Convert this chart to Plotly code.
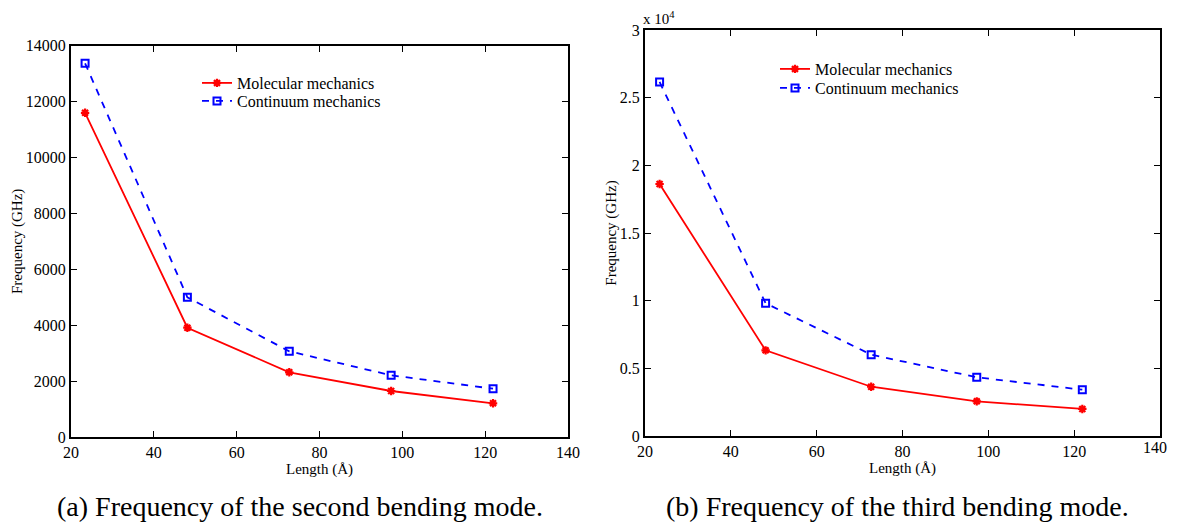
import plotly.graph_objects as go

# Data
length = [23.4, 48.1, 72.7, 97.3, 121.9]
mm_second = [11600, 3910, 2315, 1646, 1206]
cm_second = [13370, 4998, 3066, 2207, 1728]
mm_third = [18620, 6330, 3640, 2560, 2000]
cm_third = [26160, 9810, 6010, 4340, 3420]

x_ticks = [20, 40, 60, 80, 100, 120, 140]
x_text_b = ["20", "40", "60", "80", "100", "120", ""]
x_last = [140]
y_ticks_a = [0, 2000, 4000, 6000, 8000, 10000, 12000, 14000]
y_text_a = ["0", "2000", "4000", "6000", "8000", "10000", "12000", "14000"]
y_ticks_b = [0, 5000, 10000, 15000, 20000, 25000, 30000]
y_text_b = ["0", "0.5", "1", "1.5", "2", "2.5", "3"]

FONT = "Liberation Serif, Times New Roman, serif"
RED = "#ff0000"
BLUE = "#0000ff"

fig = go.Figure()

red_line = dict(color=RED, width=1.8)
red_marker = dict(symbol="asterisk-open", size=7, line=dict(color=RED, width=2.2))
blue_line = dict(color=BLUE, width=1.8, dash="7px,7px")
blue_marker = dict(symbol="square-open", size=7, line=dict(color=BLUE, width=2))

fig.add_trace(go.Scatter(x=length, y=mm_second, name="Molecular mechanics", mode="lines+markers",
                         line=red_line, marker=red_marker, xaxis="x", yaxis="y", legend="legend"))
fig.add_trace(go.Scatter(x=length, y=cm_second, name="Continuum mechanics", mode="lines+markers",
                         line=blue_line, marker=blue_marker, xaxis="x", yaxis="y", legend="legend3"))
fig.add_trace(go.Scatter(x=length, y=mm_third, name="Molecular mechanics", mode="lines+markers",
                         line=red_line, marker=red_marker, xaxis="x2", yaxis="y2", legend="legend2"))
fig.add_trace(go.Scatter(x=length, y=cm_third, name="Continuum mechanics", mode="lines+markers",
                         line=blue_line, marker=blue_marker, xaxis="x2", yaxis="y2", legend="legend4"))
# helper (empty) trace so the overlay axis carrying the last tick label is drawn
fig.add_trace(go.Scatter(x=[], y=[], xaxis="x3", yaxis="y2", showlegend=False, hoverinfo="skip"))

# The page adds an 8px body margin; the figure is sized/positioned accordingly.
OFF = 8
W = 1161.0
H = 515.0
def fx(px):
    return (px - OFF) / W
def fy(py):
    return (H - (py - OFF)) / H

axis_common = dict(showline=True, linecolor="black", linewidth=2, mirror="ticks",
                   ticks="inside", ticklen=6, tickwidth=1.2, tickcolor="black",
                   showgrid=False, zeroline=False, automargin=False,
                   ticklabeloverflow="allow",
                   tickfont=dict(family=FONT, size=16, color="black"))
title_font = dict(family=FONT, size=15, color="black")

def leg(xp, yp):
    return dict(x=fx(xp), y=fy(yp), xanchor="left", yanchor="middle", bgcolor="rgba(0,0,0,0)",
                font=dict(family=FONT, size=16, color="black"), itemwidth=30, tracegroupgap=0)

fig.update_layout(
    width=int(W), height=int(H),
    paper_bgcolor="white", plot_bgcolor="white",
    font=dict(family=FONT, color="black"),
    margin=dict(l=0, r=0, t=0, b=0, autoexpand=False),
    showlegend=True,
    xaxis=dict(domain=[fx(71), fx(568)], range=[20, 140], tickvals=x_ticks, anchor="y",
               title=dict(text="Length (Å)", font=title_font, standoff=0),
               **axis_common),
    yaxis=dict(domain=[fy(437), fy(45.7)], range=[0, 14000], tickvals=y_ticks_a, ticktext=y_text_a, anchor="x",
               title=dict(text="Frequency (GHz)", font=title_font, standoff=0),
               **axis_common),
    xaxis2=dict(domain=[fx(645), fx(1160)], range=[20, 140], tickvals=x_ticks, ticktext=x_text_b, anchor="y2",
                title=dict(text="Length (Å)", font=title_font, standoff=0),
                **axis_common),
    xaxis3=dict(overlaying="x2", anchor="y2", side="bottom", range=[20, 140], tickvals=x_last,
                ticks="", showline=False, showgrid=False, zeroline=False, automargin=False,
                ticklabeloverflow="allow", ticklabelshift=-5,
                tickfont=dict(family=FONT, size=16, color="black")),
    yaxis2=dict(domain=[fy(436), fy(30)], range=[0, 30000], tickvals=y_ticks_b, ticktext=y_text_b, anchor="x2",
                title=dict(text="Frequency (GHz)", font=title_font, standoff=0),
                **axis_common),
    legend=leg(197, 83),
    legend3=leg(197, 101),
    legend2=leg(775, 69),
    legend4=leg(775, 88),
    annotations=[
        dict(text="x 10<sup>4</sup>", x=fx(641), y=fy(29), xref="paper", yref="paper",
             xanchor="left", yanchor="bottom", showarrow=False,
             font=dict(family=FONT, size=15, color="black")),
        dict(text="(a) Frequency of the second bending mode.", x=fx(300), y=fy(506), xref="paper", yref="paper",
             xanchor="center", yanchor="middle", showarrow=False,
             font=dict(family=FONT, size=28, color="black")),
        dict(text="(b) Frequency of the third bending mode.", x=fx(897), y=fy(506), xref="paper", yref="paper",
             xanchor="center", yanchor="middle", showarrow=False,
             font=dict(family=FONT, size=28, color="black")),
    ],
)

fig.write_html("out.html")
